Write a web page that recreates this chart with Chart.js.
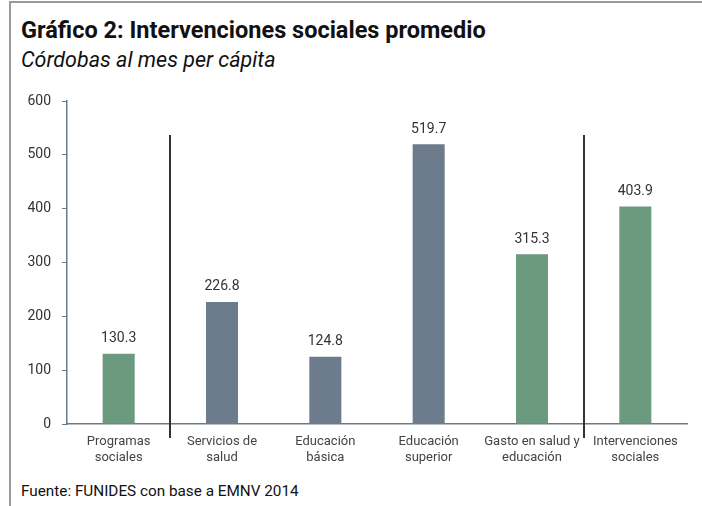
<!DOCTYPE html>
<html>
<head>
<meta charset="utf-8">
<script src="https://cdn.jsdelivr.net/npm/chart.js@4"></script>
<style>
  html, body { margin: 0; padding: 0; background: #fff; }
  #wrap { position: relative; width: 702px; height: 506px; overflow: hidden; }
  #frameTop { position: absolute; left: 9px; top: 1px; width: 693px; height: 2px; background: #9a9a9a; }
  #frameLeft { position: absolute; left: 9px; top: 1px; width: 2px; height: 505px; background: #9a9a9a; }
  #title { position: absolute; left: 21px; top: 16px; font: bold 23.5px Roboto, sans-serif; color: #111; white-space: nowrap; line-height: 28px; }
  #subtitle { position: absolute; left: 21px; top: 47px; font: italic 21.5px Roboto, sans-serif; color: #111; white-space: nowrap; line-height: 26px; }
  #footer { position: absolute; left: 21px; top: 482px; font: 15.3px Roboto, sans-serif; color: #111; white-space: nowrap; line-height: 18px; }
  canvas { position: absolute; left: 0; top: 0; }
</style>
</head>
<body>
<div id="wrap">
  <div id="frameTop"></div>
  <div id="frameLeft"></div>
  <div id="title">Gráfico 2: Intervenciones sociales promedio</div>
  <div id="subtitle">Córdobas al mes per cápita</div>
  <div id="footer">Fuente: FUNIDES con base a EMNV 2014</div>
  <canvas id="c" width="702" height="506"></canvas>
</div>
<script>
const categories = [
  ["Programas", "sociales"],
  ["Servicios de", "salud"],
  ["Educación", "básica"],
  ["Educación", "superior"],
  ["Gasto en salud y", "educación"],
  ["Intervenciones", "sociales"]
];
const values = [130.3, 226.8, 124.8, 519.7, 315.3, 403.9];
const groups = ["social", "health", "health", "health", "social", "social"];
const yTicks = [0, 100, 200, 300, 400, 500, 600];
const separatorsAfter = [0, 4];

const GREEN = "#6b9a7e";
const SLATE = "#6c7c8c";
const barColors = groups.map(g => g === "social" ? GREEN : SLATE);

const valueLabels = {
  id: "valueLabels",
  afterDatasetsDraw(chart) {
    const ctx = chart.ctx;
    const meta = chart.getDatasetMeta(0);
    ctx.save();
    ctx.font = "14px Roboto, sans-serif";
    ctx.fillStyle = "#333";
    ctx.textAlign = "center";
    ctx.textBaseline = "bottom";
    meta.data.forEach((bar, i) => {
      ctx.fillText(values[i].toFixed(1), bar.x, bar.y - 8);
    });
    ctx.restore();
  }
};

const separators = {
  id: "separators",
  afterDatasetsDraw(chart) {
    const ctx = chart.ctx;
    const xs = chart.scales.x, ys = chart.scales.y;
    ctx.save();
    ctx.strokeStyle = "#333";
    ctx.lineWidth = 2;
    separatorsAfter.forEach(i => {
      const x = Math.round((xs.getPixelForValue(i) + xs.getPixelForValue(i + 1)) / 2);
      ctx.beginPath();
      ctx.moveTo(x, ys.getPixelForValue(537));
      ctx.lineTo(x, ys.bottom + 14);
      ctx.stroke();
    });
    ctx.restore();
  }
};

new Chart(document.getElementById("c"), {
  type: "bar",
  data: {
    labels: categories,
    datasets: [{
      data: values,
      backgroundColor: barColors,
      categoryPercentage: 1,
      barPercentage: 0.31
    }]
  },
  options: {
    responsive: false,
    animation: false,
    devicePixelRatio: 1,
    layout: { padding: { top: 101, right: 15, left: 0, bottom: 0 } },
    plugins: { legend: { display: false }, tooltip: { enabled: false } },
    scales: {
      x: {
        grid: { display: false, drawTicks: false },
        border: { display: true, color: "#6a7a8a", width: 1.5 },
        ticks: {
          color: "#444",
          font: { family: "Roboto, sans-serif", size: 13 },
          padding: 10,
          maxRotation: 0,
          autoSkip: false
        },
        afterFit(scale) { scale.height = 82; }
      },
      y: {
        min: 0, max: 600,
        afterBuildTicks(scale) { scale.ticks = yTicks.map(v => ({ value: v })); },
        grid: { display: true, drawOnChartArea: false, drawTicks: true, tickLength: 5, color: "#6a7a8a" },
        border: { display: true, color: "#6a7a8a", width: 1.5 },
        ticks: {
          color: "#333",
          font: { family: "Roboto, sans-serif", size: 14 },
          padding: 11
        },
        afterFit(scale) { scale.width = 67; }
      }
    }
  },
  plugins: [valueLabels, separators]
});
</script>
</body>
</html>
